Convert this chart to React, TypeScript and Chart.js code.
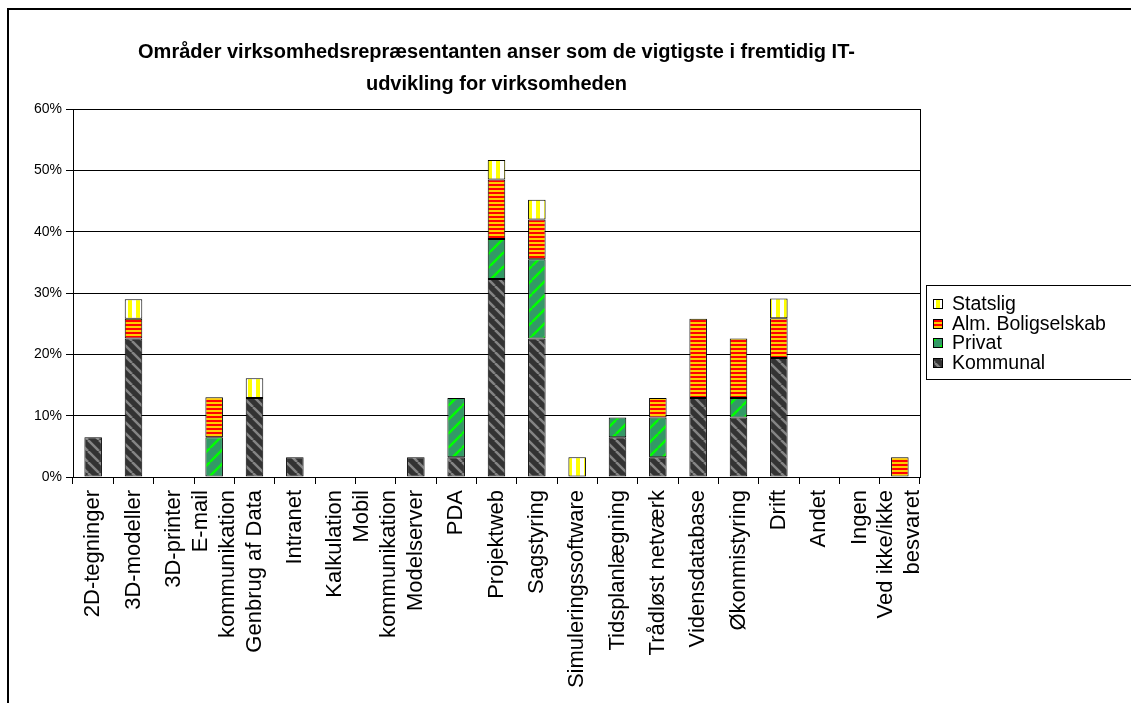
import React, { useEffect, useRef } from "react";
import { Chart, registerables } from "chart.js";
Chart.register(...registerables);

const FONT = "'Liberation Sans', Arial, sans-serif";

const titleLines = [
  "Områder virksomhedsrepræsentanten anser som de vigtigste i fremtidig IT-",
  "udvikling for virksomheden",
];

const categories: string[][] = [
  ["2D-tegninger"],
  ["3D-modeller"],
  ["3D-printer"],
  ["E-mail", "kommunikation"],
  ["Genbrug af Data"],
  ["Intranet"],
  ["Kalkulation"],
  ["Mobil", "kommunikation"],
  ["Modelserver"],
  ["PDA"],
  ["Projektweb"],
  ["Sagstyring"],
  ["Simuleringssoftware"],
  ["Tidsplanlægning"],
  ["Trådløst netværk"],
  ["Vidensdatabase"],
  ["Økonmistyring"],
  ["Drift"],
  ["Andet"],
  ["Ingen"],
  ["Ved ikke/ikke", "besvaret"],
];

const seriesNames = ["Kommunal", "Privat", "Alm. Boligselskab", "Statslig"];

const kommunal = [6.5, 22.6, 0, 0, 12.9, 3.2, 0, 0, 3.2, 3.2, 32.3, 22.6, 0, 6.5, 3.2, 12.9, 9.7, 19.4, 0, 0, 0];
const privat = [0, 0, 0, 6.5, 0, 0, 0, 0, 0, 9.7, 6.5, 12.9, 0, 3.2, 6.5, 0, 3.2, 0, 0, 0, 0];
const alm = [0, 3.2, 0, 6.5, 0, 0, 0, 0, 0, 0, 9.7, 6.5, 0, 0, 3.2, 12.9, 9.7, 6.5, 0, 0, 3.2];
const statslig = [0, 3.2, 0, 0, 3.2, 0, 0, 0, 0, 0, 3.2, 3.2, 3.2, 0, 0, 0, 0, 3.2, 0, 0, 0];

const yTicks = [0, 10, 20, 30, 40, 50, 60];

function makePattern(w: number, h: number, draw: (c: CanvasRenderingContext2D) => void) {
  const c = document.createElement("canvas");
  c.width = w;
  c.height = h;
  const x = c.getContext("2d")!;
  draw(x);
  return x.createPattern(c, "repeat")!;
}

function diag(c: CanvasRenderingContext2D, s: number, bg: string, fg: string, lw: number, up: boolean) {
  c.fillStyle = bg;
  c.fillRect(0, 0, s, s);
  c.strokeStyle = fg;
  c.lineWidth = lw;
  for (const k of [-s, 0, s]) {
    c.beginPath();
    if (up) {
      c.moveTo(k, s);
      c.lineTo(k + s, 0);
    } else {
      c.moveTo(k, 0);
      c.lineTo(k + s, s);
    }
    c.stroke();
  }
}

export default function App() {
  const ref = useRef<HTMLCanvasElement>(null);

  useEffect(() => {
    const canvas = ref.current!;
    const pKommunal = makePattern(11, 11, (c) => diag(c, 11, "#333333", "#858585", 2.5, false));
    const pPrivat = makePattern(14, 14, (c) => diag(c, 14, "#339966", "#00ff00", 2.5, true));
    const pAlm = makePattern(4, 4, (c) => {
      c.fillStyle = "#ff0000";
      c.fillRect(0, 0, 4, 2);
      c.fillStyle = "#ffcc00";
      c.fillRect(0, 2, 4, 2);
    });
    const pStat = makePattern(8, 8, (c) => {
      c.fillStyle = "#ffffff";
      c.fillRect(0, 0, 8, 8);
      c.fillStyle = "#ffff00";
      c.fillRect(0, 0, 4, 8);
    });

    const frameAndText = {
      id: "frameAndText",
      beforeDraw(chart: any) {
        const ctx = chart.ctx;
        ctx.save();
        ctx.fillStyle = "#ffffff";
        ctx.fillRect(0, 0, chart.width, chart.height);
        ctx.fillStyle = "#000000";
        ctx.fillRect(7, 8, chart.width, 2);
        ctx.fillRect(7, 8, 2, chart.height);
        ctx.restore();
      },
      afterDraw(chart: any) {
        const ctx = chart.ctx;
        const area = chart.chartArea;
        ctx.save();
        // plot area right border
        ctx.strokeStyle = "#000";
        ctx.lineWidth = 1;
        ctx.beginPath();
        ctx.moveTo(Math.round(area.right) + 0.5, area.top);
        ctx.lineTo(Math.round(area.right) + 0.5, area.bottom);
        ctx.stroke();

        // title
        ctx.fillStyle = "#000";
        ctx.font = `bold 20px ${FONT}`;
        ctx.textAlign = "center";
        ctx.textBaseline = "middle";
        const cx = (area.left + area.right) / 2;
        titleLines.forEach((t, i) => ctx.fillText(t, cx, 52 + i * 32));

        // x labels
        const xs = chart.scales.x;
        ctx.font = `22px ${FONT}`;
        ctx.textAlign = "right";
        ctx.textBaseline = "middle";
        const LH = 27;
        categories.forEach((lines, i) => {
          const px = xs.getPixelForValue(i);
          lines.forEach((ln, j) => {
            const lx = px + (j - (lines.length - 1) / 2) * LH;
            ctx.save();
            ctx.translate(lx, area.bottom + 13);
            ctx.rotate(-Math.PI / 2);
            ctx.fillText(ln, 0, 0);
            ctx.restore();
          });
        });

        // legend
        const ds = [...chart.data.datasets].reverse();
        ctx.strokeStyle = "#000";
        ctx.lineWidth = 1;
        ctx.strokeRect(926.5, 285.5, 220, 94);
        ctx.font = `19.5px ${FONT}`;
        ctx.textAlign = "left";
        ctx.textBaseline = "middle";
        ds.forEach((d: any, i: number) => {
          const y = 304 + i * 19.5;
          ctx.fillStyle = d.backgroundColor;
          ctx.fillRect(933, Math.round(y) - 5, 10, 10);
          ctx.strokeRect(933.5, Math.round(y) - 4.5, 9, 9);
          ctx.fillStyle = "#000";
          ctx.fillText(d.label, 952, y + 1);
        });
        ctx.restore();
      },
    };

    const patterns = [pKommunal, pPrivat, pAlm, pStat];
    const values = [kommunal, privat, alm, statslig];

    const chart = new Chart(canvas, {
      type: "bar",
      data: {
        labels: categories.map((c) => c.join(" ")),
        datasets: seriesNames.map((name, i) => ({
          label: name,
          data: values[i],
          backgroundColor: patterns[i] as any,
          borderColor: "#000000",
          borderWidth: 1,
          borderSkipped: false,
          barPercentage: 0.435,
          categoryPercentage: 1,
        })),
      },
      options: {
        responsive: false,
        animation: false,
        events: [],
        layout: { padding: { top: 109, right: 211, left: 0, bottom: 0 } },
        plugins: {
          legend: { display: false },
          title: { display: false },
          tooltip: { enabled: false },
        },
        scales: {
          x: {
            stacked: true,
            afterFit: (s: any) => {
              s.height = 226;
            },
            ticks: { display: false },
            grid: {
              display: true,
              offset: true,
              drawOnChartArea: false,
              drawTicks: true,
              tickLength: 7,
              color: "#000",
              lineWidth: 1,
            },
            border: { display: true, color: "#000", width: 1 },
          },
          y: {
            stacked: true,
            min: 0,
            max: 60,
            afterFit: (s: any) => {
              s.width = 73;
            },
            afterBuildTicks: (s: any) => {
              s.ticks = yTicks.map((v) => ({ value: v }));
            },
            ticks: {
              color: "#000",
              font: { family: FONT, size: 14 },
              padding: 4,
              callback: (v: any) => `${v}%`,
            },
            grid: {
              color: "#000",
              lineWidth: 1,
              drawTicks: true,
              tickLength: 7,
            },
            border: { display: true, color: "#000", width: 1 },
          },
        },
      },
      plugins: [frameAndText],
    });
    return () => chart.destroy();
  }, []);

  return (
    <div style={{ position: "fixed", left: 0, top: 0, width: 1131, height: 703, background: "#fff" }}>
      <canvas ref={ref} width={1131} height={703} style={{ display: "block", width: 1131, height: 703 }} />
    </div>
  );
}
